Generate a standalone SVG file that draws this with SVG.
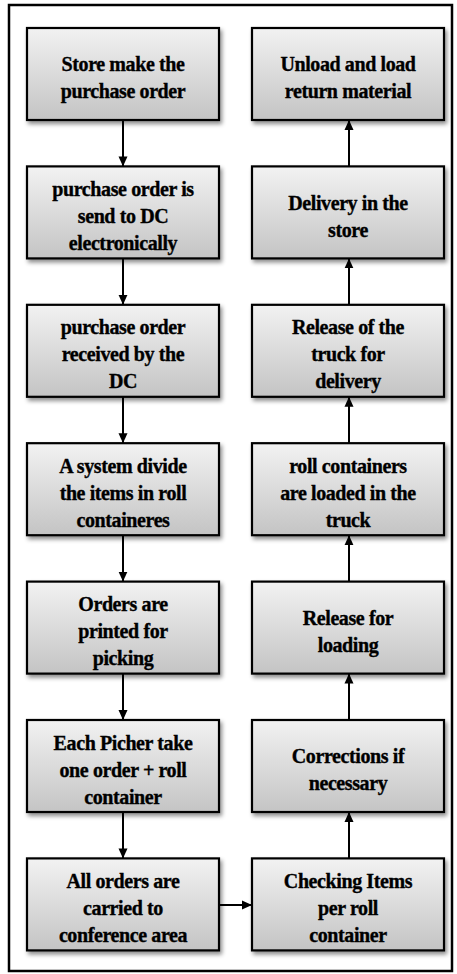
<svg xmlns="http://www.w3.org/2000/svg" width="457" height="974" viewBox="0 0 457 974">
<defs>
<linearGradient id="g" x1="0" y1="0" x2="0" y2="1">
<stop offset="0" stop-color="#f2f2f2"/>
<stop offset="1" stop-color="#c4c4c4"/>
</linearGradient>
<filter id="sh" x="-10%" y="-10%" width="125%" height="130%">
<feDropShadow dx="2" dy="3" stdDeviation="2" flood-color="#000" flood-opacity="0.45"/>
</filter>
<marker id="ah" markerWidth="10" markerHeight="10" viewBox="0 0 10 10" refX="10" refY="5" orient="auto" markerUnits="userSpaceOnUse">
<path d="M0,0.5 L10,5 L0,9.5 Z" fill="#000"/>
</marker>
</defs>
<style>
.box{fill:url(#g);stroke:#000;stroke-width:2.2;filter:url(#sh)}
.t{font-family:'Liberation Serif','Times New Roman',serif;font-weight:700;font-size:20px;fill:#000;stroke:#000;stroke-width:0.35;text-anchor:middle;letter-spacing:-0.4px}
.c{stroke:#000;stroke-width:2;fill:none;marker-end:url(#ah)}
</style>
<rect x="9" y="5" width="443" height="966" fill="#fff" stroke="#000" stroke-width="2.5"/>

<g id="connectors">
<line class="c" x1="123" y1="120" x2="123" y2="166.4"/>
<line class="c" x1="123" y1="258.4" x2="123" y2="304.8"/>
<line class="c" x1="123" y1="396.8" x2="123" y2="443.2"/>
<line class="c" x1="123" y1="535.2" x2="123" y2="581.6"/>
<line class="c" x1="123" y1="673.6" x2="123" y2="720"/>
<line class="c" x1="123" y1="812" x2="123" y2="858.4"/>
<line class="c" x1="219" y1="905" x2="252" y2="905"/>
<line class="c" x1="349" y1="858.4" x2="349" y2="812"/>
<line class="c" x1="349" y1="720" x2="349" y2="673.6"/>
<line class="c" x1="349" y1="581.6" x2="349" y2="535.2"/>
<line class="c" x1="349" y1="443.2" x2="349" y2="396.8"/>
<line class="c" x1="349" y1="304.8" x2="349" y2="258.4"/>
<line class="c" x1="349" y1="166.4" x2="349" y2="120"/>
</g>

<g id="n1"><rect class="box" x="27" y="28" width="192" height="92"/>
<text class="t"><tspan x="123" y="71">Store make the</tspan><tspan x="123" y="98">purchase order</tspan></text></g>
<g id="n2"><rect class="box" x="27" y="166.4" width="192" height="92"/>
<text class="t"><tspan x="123" y="196">purchase order is</tspan><tspan x="123" y="223">send to DC</tspan><tspan x="123" y="250">electronically</tspan></text></g>
<g id="n3"><rect class="box" x="27" y="304.8" width="192" height="92"/>
<text class="t"><tspan x="123" y="334.4">purchase order</tspan><tspan x="123" y="361.4">received by the</tspan><tspan x="123" y="388.4">DC</tspan></text></g>
<g id="n4"><rect class="box" x="27" y="443.2" width="192" height="92"/>
<text class="t"><tspan x="123" y="472.8">A system divide</tspan><tspan x="123" y="499.8">the items in roll</tspan><tspan x="123" y="526.8">containeres</tspan></text></g>
<g id="n5"><rect class="box" x="27" y="581.6" width="192" height="92"/>
<text class="t"><tspan x="123" y="611.2">Orders are</tspan><tspan x="123" y="638.2">printed for</tspan><tspan x="123" y="665.2">picking</tspan></text></g>
<g id="n6"><rect class="box" x="27" y="720" width="192" height="92"/>
<text class="t"><tspan x="123" y="749.6">Each Picher take</tspan><tspan x="123" y="776.6">one order + roll</tspan><tspan x="123" y="803.6">container</tspan></text></g>
<g id="n7"><rect class="box" x="27" y="858.4" width="192" height="92"/>
<text class="t"><tspan x="123" y="888">All orders are</tspan><tspan x="123" y="915">carried to</tspan><tspan x="123" y="942">conference area</tspan></text></g>

<g id="n8"><rect class="box" x="252" y="858.4" width="192" height="92"/>
<text class="t"><tspan x="348" y="888">Checking Items</tspan><tspan x="348" y="915">per roll</tspan><tspan x="348" y="942">container</tspan></text></g>
<g id="n9"><rect class="box" x="252" y="720" width="192" height="92"/>
<text class="t"><tspan x="348" y="763.1">Corrections if</tspan><tspan x="348" y="790.1">necessary</tspan></text></g>
<g id="n10"><rect class="box" x="252" y="581.6" width="192" height="92"/>
<text class="t"><tspan x="348" y="624.7">Release for</tspan><tspan x="348" y="651.7">loading</tspan></text></g>
<g id="n11"><rect class="box" x="252" y="443.2" width="192" height="92"/>
<text class="t"><tspan x="348" y="472.8">roll containers</tspan><tspan x="348" y="499.8">are loaded in the</tspan><tspan x="348" y="526.8">truck</tspan></text></g>
<g id="n12"><rect class="box" x="252" y="304.8" width="192" height="92"/>
<text class="t"><tspan x="348" y="334.4">Release of the</tspan><tspan x="348" y="361.4">truck for</tspan><tspan x="348" y="388.4">delivery</tspan></text></g>
<g id="n13"><rect class="box" x="252" y="166.4" width="192" height="92"/>
<text class="t"><tspan x="348" y="209.5">Delivery in the</tspan><tspan x="348" y="236.5">store</tspan></text></g>
<g id="n14"><rect class="box" x="252" y="28" width="192" height="92"/>
<text class="t"><tspan x="348" y="71">Unload and load</tspan><tspan x="348" y="98">return material</tspan></text></g>
</svg>
